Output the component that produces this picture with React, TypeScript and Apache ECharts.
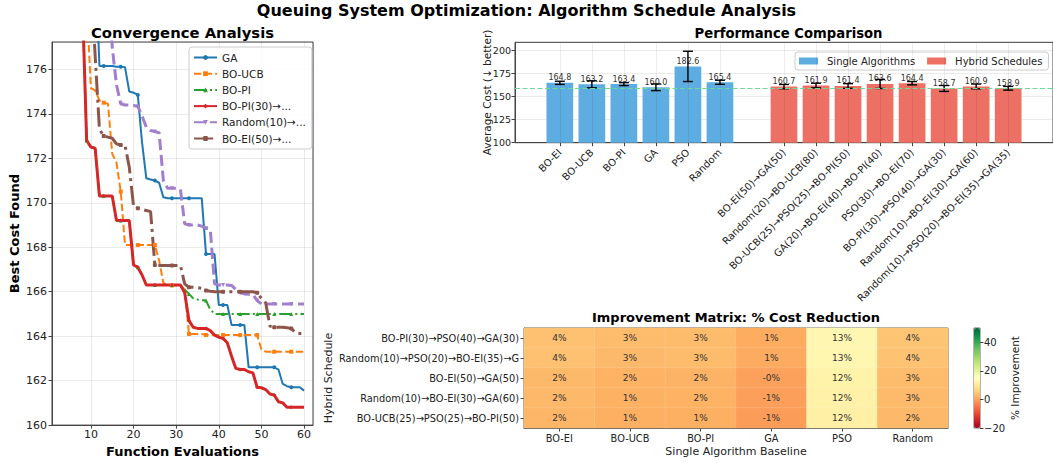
import React, { useEffect, useRef } from 'react';
import * as echarts from 'echarts';

// ---------- Convergence data (best cost found per function evaluation) ----------
const gaStart = 11;
const gaCost = [181.0, 176.15, 176.15, 176.15, 176.15, 176.12, 176.12, 176.1, 175.0, 174.95, 174.85, 172.7, 171.1, 171.05, 171.0, 170.9, 170.25, 170.2, 170.2, 170.2, 170.2, 170.2, 170.2, 170.2, 170.2, 170.2, 167.7, 167.7, 167.7, 165.4, 165.4, 165.4, 164.5, 164.5, 164.5, 164.5, 162.6, 162.6, 162.6, 162.6, 162.6, 162.6, 162.6, 162.5, 161.85, 161.75, 161.7, 161.7, 161.7, 161.55];

const ucbStart = 9;
const ucbCost = [179.0, 175.15, 175.05, 174.6, 174.5, 174.45, 172.2, 171.8, 170.5, 168.1, 168.1, 168.1, 168.1, 168.1, 168.1, 168.1, 168.1, 167.4, 166.4, 166.28, 166.28, 166.28, 166.28, 166.1, 164.1, 164.1, 164.1, 164.1, 164.05, 164.05, 164.05, 164.05, 164.05, 164.05, 164.05, 164.05, 164.05, 164.05, 164.05, 164.05, 164.05, 163.4, 163.3, 163.3, 163.3, 163.3, 163.3, 163.3, 163.3, 163.3, 163.3, 163.3];

const piStart = 8;
const piCost = [179.1, 172.8, 172.5, 172.45, 170.3, 170.3, 170.3, 170.3, 169.2, 169.2, 169.2, 169.2, 167.2, 167.1, 166.75, 166.3, 166.3, 166.3, 166.3, 166.3, 166.3, 166.3, 166.3, 166.3, 166.1, 165.9, 165.7, 165.65, 165.62, 165.6, 165.2, 165.0, 165.0, 165.0, 165.0, 165.0, 165.0, 165.0, 165.0, 165.0, 165.0, 165.0, 165.0, 165.0, 165.0, 165.0, 165.0, 165.0, 165.0, 165.0, 165.0, 165.0, 165.0];

const hybPiStart = 8;
const hybPiCost = [179.1, 172.8, 172.5, 172.45, 170.3, 170.3, 170.3, 170.3, 169.2, 169.2, 169.2, 169.2, 167.2, 167.1, 166.75, 166.3, 166.3, 166.3, 166.3, 166.3, 166.3, 166.3, 166.3, 166.3, 165.95, 164.7, 164.4, 164.35, 164.35, 164.35, 164.25, 164.05, 163.95, 163.9, 163.7, 163.1, 162.55, 162.5, 162.5, 162.4, 162.35, 161.7, 161.68, 161.6, 161.4, 161.35, 161.05, 161.0, 160.8, 160.8, 160.8, 160.8, 160.8];

const hybRandStart = 14;
const hybRandCost = [181.0, 177.0, 175.3, 174.45, 174.4, 174.4, 174.38, 174.33, 173.9, 173.4, 173.25, 173.2, 173.15, 171.0, 170.65, 170.65, 170.65, 170.6, 169.05, 169.0, 169.0, 169.0, 168.95, 168.85, 168.8, 166.35, 166.3, 166.3, 166.3, 166.28, 166.1, 165.95, 165.9, 165.88, 165.88, 165.6, 165.45, 165.45, 165.45, 165.45, 165.45, 165.45, 165.45, 165.45, 165.45, 165.45, 165.45];

const hybEiStart = 10;
const hybEiCost = [180.0, 176.6, 173.3, 173.0, 172.95, 172.9, 172.65, 172.6, 172.58, 171.6, 169.85, 169.75, 169.7, 169.65, 169.6, 167.2, 167.18, 167.18, 167.18, 167.18, 167.18, 167.18, 166.35, 166.2, 166.2, 166.18, 166.15, 166.05, 166.02, 166.0, 166.0, 166.0, 166.0, 166.0, 166.0, 166.0, 166.0, 166.0, 166.0, 165.95, 165.7, 165.5, 164.45, 164.4, 164.4, 164.4, 164.38, 164.35, 164.15, 164.12, 164.12];

const convNames = ['GA', 'BO-UCB', 'BO-PI', 'BO-PI(30)→...', 'Random(10)→...', 'BO-EI(50)→...'];

// ---------- Performance comparison ----------
const singleNames = ['BO-EI', 'BO-UCB', 'BO-PI', 'GA', 'PSO', 'Random'];
const singleCost = [164.8, 163.2, 163.4, 160.0, 182.6, 165.4];
const singleErr = [1.7, 3.8, 1.6, 3.6, 16.4, 2.2];

const hybridNames = ['BO-EI(50)→GA(50)', 'Random(20)→BO-UCB(80)', 'BO-UCB(25)→PSO(25)→BO-PI(50)', 'GA(20)→BO-EI(40)→BO-PI(40)', 'PSO(30)→BO-EI(70)', 'BO-PI(30)→PSO(40)→GA(30)', 'Random(10)→BO-EI(30)→GA(60)', 'Random(10)→PSO(20)→BO-EI(35)→GA(35)'];
const hybridCost = [160.7, 161.9, 161.4, 163.6, 164.4, 158.7, 160.9, 158.9];
const hybridErr = [2.3, 2.5, 2.5, 4.9, 1.8, 3.2, 2.6, 2.0];

const bestCost = 158.7;
const barYTicks = [100, 125, 150, 175, 200];

// ---------- Improvement matrix ----------
const heatRows = ['BO-PI(30)→PSO(40)→GA(30)', 'Random(10)→PSO(20)→BO-EI(35)→G', 'BO-EI(50)→GA(50)', 'Random(10)→BO-EI(30)→GA(60)', 'BO-UCB(25)→PSO(25)→BO-PI(50)'];
const heatCols = ['BO-EI', 'BO-UCB', 'BO-PI', 'GA', 'PSO', 'Random'];
const heatRow0 = [3.7, 2.8, 2.9, 0.8, 13.1, 4.1];
const heatRow1 = [3.6, 2.6, 2.8, 0.7, 13.0, 3.9];
const heatRow2 = [2.49, 1.5, 1.7, -0.4, 12.0, 2.8];
const heatRow3 = [2.4, 1.4, 1.53, -0.6, 11.9, 2.7];
const heatRow4 = [2.1, 1.1, 1.2, -0.9, 11.6, 2.4];
const heatValues = [heatRow0, heatRow1, heatRow2, heatRow3, heatRow4];
const colorbarTicks = [-20, 0, 20, 40];

const FONT = 'DejaVu Sans';
const RDYLGN = ['#a50026', '#d73027', '#f46d43', '#fdae61', '#fee08b', '#ffffbf', '#d9ef8b', '#a6d96a', '#66bd63', '#1a9850', '#006837'];

function toPairs(start: number, arr: number[]) {
  return arr.map((v, i) => [start + i, v]);
}

function markerSize(val: any) {
  return (val[0] - 1) % 4 === 0 ? 4 : 0;
}

function buildOption() {
  const convDefs = [
    { name: convNames[0], start: gaStart, data: gaCost, color: '#1f77b4', width: 2, type: 'solid' as any, symbol: 'circle', rot: 0 },
    { name: convNames[1], start: ucbStart, data: ucbCost, color: '#ff7f0e', width: 2, type: [7.4, 3.2], symbol: 'rect', rot: 0 },
    { name: convNames[2], start: piStart, data: piCost, color: '#2ca02c', width: 2, type: [12.8, 3.2, 2, 3.2], symbol: 'triangle', rot: 0 },
    { name: convNames[3], start: hybPiStart, data: hybPiCost, color: '#d62728', width: 3, type: 'solid', symbol: 'diamond', rot: 0 },
    { name: convNames[4], start: hybRandStart, data: hybRandCost, color: '#a07fcc', width: 3, type: [11.1, 4.8], symbol: 'triangle', rot: 180 },
    { name: convNames[5], start: hybEiStart, data: hybEiCost, color: '#8c564b', width: 3, type: [19.2, 4.8, 3, 4.8], symbol: 'roundRect', rot: 0 },
  ];

  const convSeries = convDefs.map((d) => ({
    type: 'line',
    name: d.name,
    xAxisIndex: 0,
    yAxisIndex: 0,
    data: toPairs(d.start, d.data),
    clip: true,
    showSymbol: true,
    symbol: d.symbol,
    symbolRotate: d.rot,
    symbolSize: markerSize,
    itemStyle: { color: d.color },
    lineStyle: { color: d.color, width: d.width, type: d.type },
    emphasis: { disabled: true },
  }));

  const singlePos = singleNames.map((_, i) => i);
  const hybridPos = hybridNames.map((_, i) => singleNames.length + 1 + i);
  const allPos = [...singlePos, ...hybridPos];
  const allNames = [...singleNames, ...hybridNames];
  const nameAt = (v: number) => {
    const idx = allPos.indexOf(Math.round(v));
    return idx >= 0 ? allNames[idx] : '';
  };

  const errData = [
    ...singleCost.map((c, i) => [singlePos[i], c - singleErr[i], c + singleErr[i]]),
    ...hybridCost.map((c, i) => [hybridPos[i], c - hybridErr[i], c + hybridErr[i]]),
  ];

  const barLabel = {
    show: true,
    position: 'top',
    distance: 1,
    fontSize: 8,
    color: '#333',
    fontFamily: FONT,
    formatter: (p: any) => p.value[1].toFixed(1),
  };

  const heatData: number[][] = [];
  heatValues.forEach((row, r) => row.forEach((v, c) => heatData.push([c, r, v])));

  const axisLabelStyle = { color: '#222', fontFamily: FONT };
  const axLine = { show: true, onZero: false, lineStyle: { color: '#444' } };

  return {
    animation: false,
    textStyle: { fontFamily: FONT },
    graphic: [
      { type: 'text', x: 526.5, y: 10, style: { text: 'Queuing System Optimization: Algorithm Schedule Analysis', fontSize: 16, fontWeight: 'bold', fontFamily: FONT, fill: '#000', textAlign: 'center', textVerticalAlign: 'middle' } },
      { type: 'text', x: 182.5, y: 32.5, style: { text: 'Convergence Analysis', fontSize: 14.8, fontWeight: 'bold', fontFamily: FONT, fill: '#000', textAlign: 'center', textVerticalAlign: 'middle' } },
      { type: 'text', x: 788.5, y: 33, style: { text: 'Performance Comparison', fontSize: 13.2, fontWeight: 'bold', fontFamily: FONT, fill: '#000', textAlign: 'center', textVerticalAlign: 'middle' } },
      { type: 'text', x: 736, y: 317.5, style: { text: 'Improvement Matrix: % Cost Reduction', fontSize: 13, fontWeight: 'bold', fontFamily: FONT, fill: '#000', textAlign: 'center', textVerticalAlign: 'middle' } },
    ],
    legend: [
      {
        data: convNames,
        orient: 'vertical',
        left: 189,
        top: 47,
        itemWidth: 23,
        itemHeight: 6,
        itemGap: 3.2,
        padding: [4, 6, 4, 4],
        backgroundColor: 'rgba(255,255,255,0.85)',
        borderColor: '#ccc',
        borderWidth: 1,
        borderRadius: 3,
        textStyle: { fontSize: 10.5, color: '#222', fontFamily: FONT, lineHeight: 13 },
        selectedMode: false,
      },
      {
        data: ['Single Algorithms', 'Hybrid Schedules'],
        orient: 'horizontal',
        left: 795,
        top: 52,
        icon: 'rect',
        itemWidth: 19,
        itemHeight: 7,
        itemGap: 12,
        padding: [4, 6, 4, 4],
        backgroundColor: 'rgba(255,255,255,0.85)',
        borderColor: '#ccc',
        borderWidth: 1,
        borderRadius: 3,
        textStyle: { fontSize: 10, color: '#222', fontFamily: FONT, padding: [0, 0, 0, 4] },
        selectedMode: false,
      },
    ],
    visualMap: {
      type: 'continuous',
      min: -20,
      max: 50,
      seriesIndex: 9,
      calculable: false,
      orient: 'vertical',
      left: 974,
      top: 328,
      itemWidth: 6,
      itemHeight: 100,
      padding: 0,
      text: ['', ''],
      inRange: { color: RDYLGN },
      hoverLink: false,
    },
    grid: [
      { left: 52, top: 42, width: 261, height: 386, show: true, borderColor: '#444', borderWidth: 1, backgroundColor: 'transparent' },
      { left: 515, top: 42.3, width: 547, height: 100.4, show: true, borderColor: '#444', borderWidth: 1, backgroundColor: 'transparent' },
      { left: 524, top: 328, width: 424, height: 100, show: true, borderColor: '#444', borderWidth: 1, backgroundColor: 'transparent' },
      { left: 974, top: 328, width: 6, height: 100, show: true, borderColor: '#444', borderWidth: 0.8, backgroundColor: 'transparent' },
    ],
    xAxis: [
      {
        gridIndex: 0, type: 'value', min: 0.87, max: 62.1,
        name: 'Function Evaluations', nameLocation: 'middle', nameGap: 17,
        nameTextStyle: { fontSize: 13, fontWeight: 'bold', color: '#000', fontFamily: FONT },
        axisLine: axLine,
        axisTick: { show: true, length: 3.5, lineStyle: { color: '#444' } },
        axisLabel: { ...axisLabelStyle, fontSize: 11, margin: 4, showMinLabel: false, showMaxLabel: false },
        splitLine: { show: true, lineStyle: { color: 'rgba(0,0,0,0.1)', width: 0.8 } },
      },
      {
        gridIndex: 1, type: 'value', min: -1.4, max: 15.4,
        axisLine: axLine,
        axisTick: { show: true, length: 3.5, customValues: allPos, lineStyle: { color: '#444' } },
        axisLabel: { ...axisLabelStyle, fontSize: 10, rotate: 45, margin: 8, customValues: allPos, formatter: (v: number) => nameAt(v) },
        splitLine: { show: false },
      },
      {
        gridIndex: 2, type: 'category', data: heatCols,
        name: 'Single Algorithm Baseline', nameLocation: 'middle', nameGap: 18,
        nameTextStyle: { fontSize: 11, color: '#222', fontFamily: FONT },
        axisLine: axLine,
        axisTick: { show: true, alignWithLabel: true, length: 3.5, lineStyle: { color: '#444' } },
        axisLabel: { ...axisLabelStyle, fontSize: 9.8, margin: 5 },
        splitLine: { show: false },
      },
      { gridIndex: 3, type: 'value', min: 0, max: 1, show: false, axisLine: { onZero: false } },
    ],
    yAxis: [
      {
        gridIndex: 0, type: 'value', min: 160, max: 177.23, interval: 2,
        name: 'Best Cost Found', nameLocation: 'middle', nameGap: 31,
        nameTextStyle: { fontSize: 13, fontWeight: 'bold', color: '#000', fontFamily: FONT },
        axisLine: axLine,
        axisTick: { show: true, length: 3.5, lineStyle: { color: '#444' } },
        axisLabel: { ...axisLabelStyle, fontSize: 11, margin: 5, showMaxLabel: false },
        splitLine: { show: true, lineStyle: { color: 'rgba(0,0,0,0.1)', width: 0.8 } },
      },
      {
        gridIndex: 1, type: 'value', min: barYTicks[0], max: 208.66, interval: 25,
        name: 'Average Cost (↓ better)', nameLocation: 'middle', nameGap: 23, nameMoveOverlap: false,
        nameTextStyle: { fontSize: 10.5, color: '#222', fontFamily: FONT },
        axisLine: axLine,
        axisTick: { show: true, length: 3.5, lineStyle: { color: '#444' } },
        axisLabel: { ...axisLabelStyle, fontSize: 9.5, margin: 4, showMaxLabel: false },
        splitLine: { show: true, lineStyle: { color: 'rgba(0,0,0,0.1)', width: 0.8 } },
      },
      {
        gridIndex: 2, type: 'category', data: heatRows, inverse: true,
        name: 'Hybrid Schedule', nameLocation: 'middle', nameGap: 190,
        nameTextStyle: { fontSize: 11, color: '#222', fontFamily: FONT },
        axisLine: axLine,
        axisTick: { show: true, alignWithLabel: true, length: 3.5, lineStyle: { color: '#444' } },
        axisLabel: { ...axisLabelStyle, fontSize: 9.8, margin: 5 },
        splitLine: { show: false },
      },
      {
        gridIndex: 3, type: 'value', min: -20, max: 50, interval: 20, position: 'right',
        name: '% Improvement', nameLocation: 'middle', nameGap: 27,
        nameTextStyle: { fontSize: 10.5, color: '#222', fontFamily: FONT },
        axisLine: { show: false, onZero: false },
        axisTick: { show: true, length: 3.5, customValues: colorbarTicks, lineStyle: { color: '#444' } },
        axisLabel: { ...axisLabelStyle, fontSize: 10, margin: 4, customValues: colorbarTicks, formatter: (v: number) => (v < 0 ? '−' + Math.abs(v) : String(v)) },
        splitLine: { show: false },
      },
    ],
    series: [
      ...convSeries,
      {
        type: 'bar',
        name: 'Single Algorithms',
        xAxisIndex: 1,
        yAxisIndex: 1,
        data: singleCost.map((c, i) => [singlePos[i], c]),
        barWidth: 26.7,
        barGap: '-100%',
        itemStyle: { color: '#5DADE2' },
        label: barLabel,
        z: 2,
      },
      {
        type: 'bar',
        name: 'Hybrid Schedules',
        xAxisIndex: 1,
        yAxisIndex: 1,
        data: hybridCost.map((c, i) => [hybridPos[i], c]),
        barWidth: 26.7,
        barGap: '-100%',
        itemStyle: { color: '#EC7063' },
        label: barLabel,
        z: 2,
        markLine: {
          silent: true,
          symbol: ['none', 'none'],
          label: { show: false },
          animation: false,
          data: [
            ...allPos.map((p) => ({ xAxis: p, lineStyle: { color: 'rgba(0,0,0,0.09)', width: 0.8, type: 'solid' } })),
            { yAxis: bestCost, lineStyle: { color: '#6fd99c', width: 1.1, type: [5, 2.5] } },
          ],
        },
      },
      {
        type: 'custom',
        name: 'err',
        xAxisIndex: 1,
        yAxisIndex: 1,
        data: errData,
        encode: { x: 0, y: [1, 2] },
        z: 4,
        silent: true,
        renderItem: (params: any, api: any) => {
          const x = api.value(0);
          const lo = api.value(1);
          const hi = api.value(2);
          const top = api.coord([x, hi]);
          const bot = api.coord([x, lo]);
          const cap = 5;
          const st = { stroke: '#000', lineWidth: 1.4 };
          return {
            type: 'group',
            children: [
              { type: 'line', shape: { x1: top[0], y1: top[1], x2: bot[0], y2: bot[1] }, style: st },
              { type: 'line', shape: { x1: top[0] - cap, y1: top[1], x2: top[0] + cap, y2: top[1] }, style: st },
              { type: 'line', shape: { x1: bot[0] - cap, y1: bot[1], x2: bot[0] + cap, y2: bot[1] }, style: st },
            ],
          };
        },
      },
      {
        type: 'heatmap',
        name: 'improvement',
        xAxisIndex: 2,
        yAxisIndex: 2,
        data: heatData,
        itemStyle: { borderColor: 'rgba(255,255,255,0.25)', borderWidth: 0.5 },
        label: {
          show: true,
          fontSize: 9,
          color: '#333',
          fontFamily: FONT,
          formatter: (p: any) => p.value[2].toFixed(0) + '%',
        },
        emphasis: { disabled: true },
      },
    ],
  };
}

export default function App() {
  const ref = useRef<HTMLDivElement>(null);
  useEffect(() => {
    document.body.style.margin = '0';
    const chart = echarts.init(ref.current as HTMLDivElement, null, { renderer: 'svg' });
    chart.setOption(buildOption() as any);
    return () => chart.dispose();
  }, []);
  return <div ref={ref} style={{ width: 1053, height: 463, background: '#fff' }} />;
}
